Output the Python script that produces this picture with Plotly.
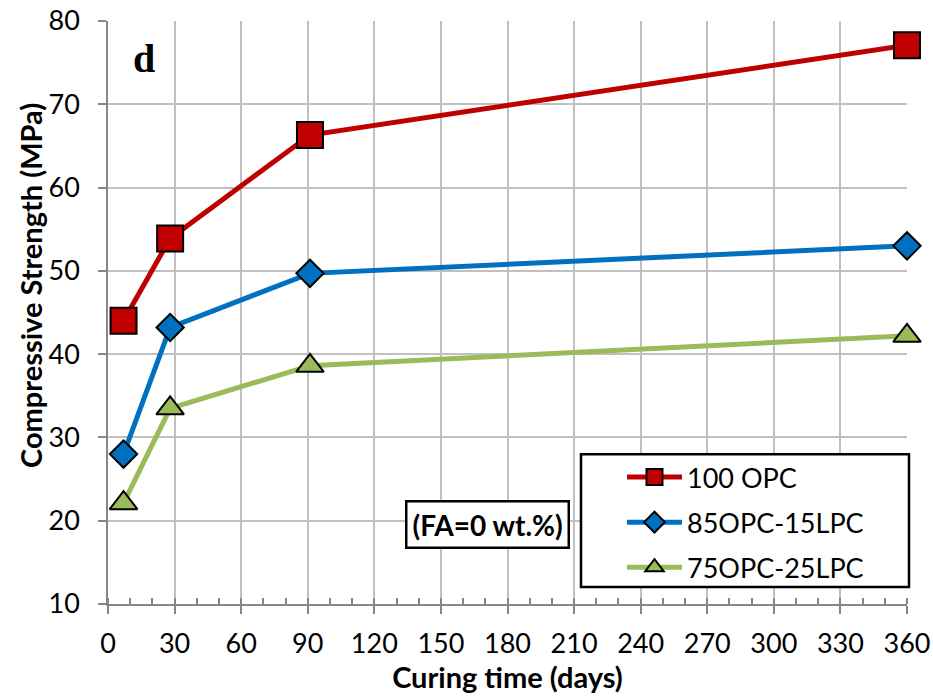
import plotly.graph_objects as go

days = [7, 28, 91, 360]
opc100 = [44.0, 53.9, 66.3, 77.1]
opc85_lpc15 = [28.0, 43.2, 49.7, 53.0]
opc75_lpc25 = [22.1, 33.5, 38.6, 42.2]

series_names = ["100 OPC", "85OPC-15LPC", "75OPC-25LPC"]
colors = ["#C00000", "#0070C0", "#9BBB59"]
symbols = ["square", "diamond", "triangle-up"]
sizes = [26, 21, 24]
values = [opc100, opc85_lpc15, opc75_lpc25]

x_ticks = list(range(0, 361, 30))
y_ticks = list(range(10, 81, 10))

FONT = "Lato"

fig = go.Figure()
for i, (name, vals) in enumerate(zip(series_names, values)):
    fig.add_trace(go.Scatter(
        x=days, y=vals, name=name, mode="lines+markers",
        legendgroup=f"g{i}", cliponaxis=False,
        line=dict(color=colors[i], width=5),
        marker=dict(symbol=symbols[i], size=sizes[i], color=colors[i],
                    line=dict(color="black", width=2)),
    ))

fig.add_annotation(
    x=16, y=75.5, xref="x", yref="y", text="<b>d</b>", showarrow=False,
    font=dict(family="Liberation Serif", size=40, color="black"),
)
fig.add_annotation(
    x=171, y=19.6, xref="x", yref="y", text="<b>(FA=0 wt.%)</b>", showarrow=False,
    font=dict(family=FONT, size=28, color="black"),
    bordercolor="black", borderwidth=2.5, borderpad=5, bgcolor="white",
)
# y-axis title (placed slightly above centre, as in the original)
fig.add_annotation(
    x=(30 - 108) / 799, y=(604 - 286) / 583, xref="paper", yref="paper",
    text="<b>Compressive Strength (MPa)</b>", textangle=-90, showarrow=False,
    xanchor="center", yanchor="middle",
    font=dict(family=FONT, size=29, color="black"),
)

# legend frame
fig.add_shape(
    type="rect", xref="paper", yref="paper",
    x0=0.592, x1=1.0025, y0=0.029, y1=0.257,
    line=dict(color="black", width=2.5), fillcolor="white", layer="above",
)

axis_common = dict(
    showline=True, linecolor="#868686", linewidth=1.5,
    showgrid=True, gridcolor="#C0C0C0", gridwidth=1.5,
    zeroline=False, mirror=False, automargin=False,
    tickfont=dict(family=FONT, size=27, color="black"),
    ticks="outside", ticklen=8, tickcolor="#868686", tickwidth=1.5,
)

fig.update_xaxes(
    range=[0, 360], tickvals=x_ticks, ticktext=[str(t) for t in x_ticks],
    title=dict(text="<b>Curing time (days)</b>", font=dict(family=FONT, size=29, color="black"), standoff=10),
    minor=dict(dtick=10, tick0=0, ticks="inside", ticklen=6, tickcolor="#868686", tickwidth=1.5, showgrid=False),
    ticklabelstandoff=7,
    **axis_common,
)
fig.update_yaxes(
    range=[10, 80], tickvals=y_ticks, ticktext=[str(t) for t in y_ticks],
    ticklabelstandoff=13,
    **axis_common,
)

fig.update_layout(
    width=933, height=696, autosize=False,
    margin=dict(l=108, r=26, t=21, b=92, autoexpand=False),
    plot_bgcolor="white", paper_bgcolor="white",
    showlegend=True,
    legend=dict(
        x=(622 - 108) / 799, y=(604 - 453) / 583, xanchor="left", yanchor="top",
        borderwidth=0, bgcolor="rgba(0,0,0,0)",
        font=dict(family=FONT, size=27, color="black"),
        tracegroupgap=7, itemwidth=55,
    ),
)

fig.write_html("out.html")
